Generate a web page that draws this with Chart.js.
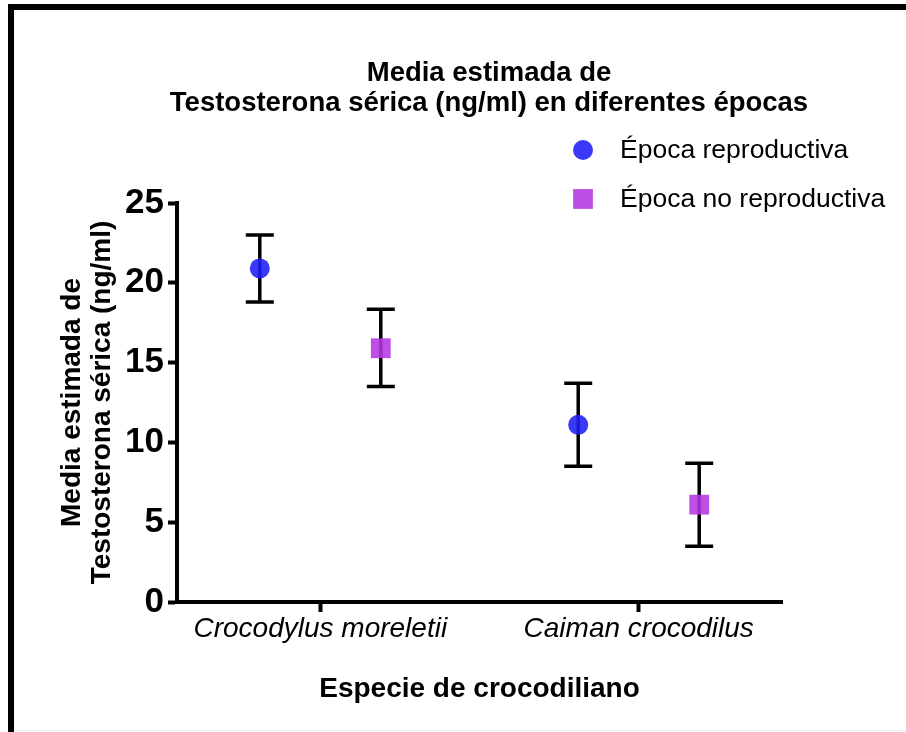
<!DOCTYPE html>
<html>
<head>
<meta charset="utf-8">
<title>Testosterona sérica</title>
<script src="https://cdn.jsdelivr.net/npm/chart.js@4.4.1/dist/chart.umd.min.js"></script>
<style>
  html, body { margin: 0; padding: 0; background: #fff; }
  #wrap { position: relative; width: 906px; height: 732px; overflow: hidden; background: #fff; }
  #chart { position: absolute; left: 0; top: 0; }
  .frame-top { position: absolute; left: 8px; top: 4px; width: 898px; height: 6px; background: #000; }
  .frame-left { position: absolute; left: 8px; top: 4px; width: 6px; height: 728px; background: #000; }
  .frame-bottom { position: absolute; left: 14px; top: 730px; width: 892px; height: 1px; background: #ececec; }
</style>
</head>
<body>
<div id="wrap">
  <canvas id="chart" width="906" height="732"></canvas>
  <div class="frame-top"></div>
  <div class="frame-left"></div>
  <div class="frame-bottom"></div>
</div>
<script>
// species on the x axis, one group per season
const species = ['Crocodylus moreletii', 'Caiman crocodilus'];
const seasons = ['Época reproductiva', 'Época no reproductiva'];
const titleLines = ['Media estimada de', 'Testosterona sérica (ng/ml) en diferentes épocas'];

// estimated means with their interval limits (ng/ml)
const reproMean = [20.9, 11.1];
const reproLow = [18.8, 8.5];
const reproHigh = [23.0, 13.7];
const noReproMean = [15.9, 6.1];
const noReproLow = [13.5, 3.5];
const noReproHigh = [18.35, 8.7];

const yTicks = [0, 5, 10, 15, 20, 25];

const FONT = '"Liberation Sans", Arial, Helvetica, sans-serif';
Chart.defaults.font.family = FONT;
Chart.defaults.color = '#000';

// points sit left / right of the species tick
const groupShift = 0.19;

function buildPoints(means, lows, highs, shift) {
    return means.map((m, i) => ({ x: i + 1 + shift, y: m, low: lows[i], high: highs[i] }));
}

// whiskers with caps, drawn under the markers
const errorBars = {
    id: 'errorBars',
    beforeDatasetsDraw(chart) {
        const { ctx, scales: { x, y } } = chart;
        const cap = 14;
        ctx.save();
        ctx.strokeStyle = '#000';
        ctx.lineWidth = 3.5;
        chart.data.datasets.forEach(ds => {
            ds.data.forEach(p => {
                const px = x.getPixelForValue(p.x);
                const top = y.getPixelForValue(p.high);
                const bot = y.getPixelForValue(p.low);
                ctx.beginPath();
                ctx.moveTo(px, top);
                ctx.lineTo(px, bot);
                ctx.moveTo(px - cap, top);
                ctx.lineTo(px + cap, top);
                ctx.moveTo(px - cap, bot);
                ctx.lineTo(px + cap, bot);
                ctx.stroke();
            });
        });
        ctx.restore();
    }
};

// two-line heading above the plot
const heading = {
    id: 'heading',
    afterDraw(chart) {
        const { ctx } = chart;
        ctx.save();
        ctx.font = 'bold 27.5px ' + FONT;
        ctx.fillStyle = '#000';
        ctx.textAlign = 'center';
        ctx.textBaseline = 'middle';
        titleLines.forEach((line, i) => ctx.fillText(line, 489, 73 + i * 30));
        ctx.restore();
    }
};

// legend in the upper right corner
const seasonLegend = {
    id: 'seasonLegend',
    afterDraw(chart) {
        const { ctx } = chart;
        ctx.save();
        ctx.font = '26.5px ' + FONT;
        ctx.textBaseline = 'middle';
        ctx.textAlign = 'left';
        chart.data.datasets.forEach((ds, i) => {
            const cy = 150 + i * 49;
            ctx.fillStyle = ds.legendColor;
            Chart.helpers.drawPoint(ctx, {
                pointStyle: ds.pointStyle,
                radius: ds.pointRadius,
                rotation: 0,
                borderWidth: 0
            }, 583, cy);
            ctx.fillStyle = '#000';
            ctx.fillText(ds.label, 620, cy + 1);
        });
        ctx.restore();
    }
};

const ctx = document.getElementById('chart').getContext('2d');
const chart = new Chart(ctx, {
    type: 'scatter',
    data: {
        datasets: [
            {
                label: seasons[0],
                data: buildPoints(reproMean, reproLow, reproHigh, -groupShift),
                pointStyle: 'circle',
                pointRadius: 10,
                pointHoverRadius: 10,
                pointBorderWidth: 0,
                backgroundColor: 'rgba(30, 30, 245, 0.88)',
                legendColor: 'rgb(58, 58, 246)'
            },
            {
                label: seasons[1],
                data: buildPoints(noReproMean, noReproLow, noReproHigh, groupShift),
                pointStyle: 'rect',
                pointRadius: 14,
                pointHoverRadius: 14,
                pointBorderWidth: 0,
                backgroundColor: 'rgba(180, 55, 225, 0.88)',
                legendColor: 'rgb(189, 79, 229)'
            }
        ]
    },
    options: {
        responsive: false,
        animation: false,
        layout: { padding: { top: 203, left: 0, right: 124, bottom: 0 } },
        plugins: {
            legend: { display: false },
            tooltip: { enabled: false },
            title: { display: false }
        },
        scales: {
            x: {
                type: 'linear',
                min: 0.55,
                max: 2.45,
                afterBuildTicks: s => { s.ticks = species.map((_, i) => ({ value: i + 1 })); },
                afterFit: s => { s.height = 130; },
                ticks: {
                    callback: v => species[v - 1],
                    font: { size: 28, style: 'italic' },
                    color: '#000',
                    padding: 0,
                    maxRotation: 0
                },
                grid: { drawOnChartArea: false, drawTicks: true, tickLength: 10, tickWidth: 4, tickColor: '#000' },
                border: { display: true, color: '#000', width: 4 },
                title: {
                    display: true,
                    text: 'Especie de crocodiliano',
                    color: '#000',
                    font: { size: 28, weight: 'bold', lineHeight: 1.2 },
                    padding: { top: 0, bottom: 26 }
                }
            },
            y: {
                min: 0,
                max: 25,
                afterBuildTicks: s => { s.ticks = yTicks.map(v => ({ value: v })); },
                afterFit: s => { s.width = 177; },
                ticks: {
                    font: { size: 35, weight: 'bold' },
                    color: '#000',
                    padding: 4
                },
                grid: { drawOnChartArea: false, drawTicks: true, tickLength: 9, tickWidth: 4, tickColor: '#000' },
                border: { display: true, color: '#000', width: 4 },
                title: {
                    display: true,
                    text: ['Media estimada de', 'Testosterona sérica (ng/ml)'],
                    color: '#000',
                    font: { size: 28, weight: 'bold', lineHeight: 30 / 28 },
                    padding: { top: 57, bottom: 0 }
                }
            }
        }
    },
    plugins: [errorBars, heading, seasonLegend]
});
</script>
</body>
</html>
